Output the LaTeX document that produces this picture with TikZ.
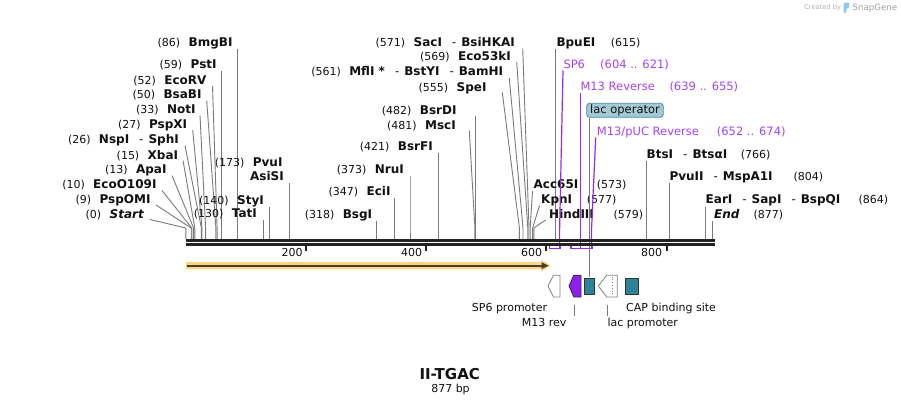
\documentclass[tikz,border=0pt]{standalone}
\usepackage{fontspec}
\setmainfont{DejaVu Sans}
\usetikzlibrary{calc}
\definecolor{txt}{RGB}{17,17,17}
\definecolor{cutc}{RGB}{122,122,122}
\definecolor{bbc}{RGB}{34,34,34}
\definecolor{ptxt}{RGB}{165,68,240}
\definecolor{pln}{RGB}{150,40,235}
\definecolor{pfill}{RGB}{145,30,240}
\definecolor{orng}{RGB}{255,212,128}
\definecolor{dgray}{RGB}{70,62,55}
\definecolor{teal1}{RGB}{46,131,153}
\definecolor{lacfill}{RGB}{163,201,212}
\definecolor{lacdraw}{RGB}{70,140,160}
\definecolor{fgray}{RGB}{130,130,130}
\definecolor{dk}{RGB}{50,50,50}
\definecolor{wm}{RGB}{178,178,178}
\definecolor{wmblue}{RGB}{140,200,240}
\tikzset{
 enz/.style={font=\fontsize{12}{14}\selectfont\bfseries, inner sep=0pt, text=txt},
 num/.style={font=\fontsize{11}{13}\selectfont, inner sep=0pt, text=txt},
 flab/.style={font=\fontsize{11.5}{13}\selectfont, inner sep=0pt, text=ptxt},
 blab/.style={font=\fontsize{11}{13}\selectfont, inner sep=0pt, text=txt},
 cl/.style={draw=cutc, line width=0.9pt},
 pl/.style={draw=pln, line width=1.2pt},
 bb/.style={draw=bbc, line width=2.4pt},
 tickm/.style={draw=bbc, line width=2pt},
 featw/.style={draw=fgray, fill=white, line width=0.8pt, line join=round},
 featc/.style={draw=dk, line width=0.8pt, line join=round},
}
\newcommand{\sepx}{\hspace{10pt}\textmd{-}\hspace{5pt}}
% id, endx, base, name, number, site, startx, starty
\newcommand{\EnzL}[8]{%
 \node[enz, anchor=base east] (e#1) at (#2,#3) {#4};
 \node[num, anchor=base east] (n#1) at ([xshift=-8pt]e#1.base west) {#5};
 \coordinate (t#1) at (#7,#8);
 \coordinate (k#1) at (#6,228);
 \coordinate (s#1) at (#6,239);
 \draw[cl] (t#1) -- (k#1) -- (s#1);}
% id, startx, base, name, number, numx, site, sx, sy
\newcommand{\EnzR}[9]{%
 \node[enz, anchor=base west] (e#1) at (#2,#3) {#4};
 \node[num, anchor=base west] (n#1) at (#6,#3) {#5};
 \coordinate (t#1) at (#8,#9);
 \coordinate (k#1) at (#7,228);
 \coordinate (s#1) at (#7,239);
 \draw[cl] (t#1) -- (k#1) -- (s#1);}
\begin{document}
\begin{tikzpicture}[x=1pt,y=-1pt]
\useasboundingbox (0,0) rectangle (901,405);
\fill[white] (0,0) rectangle (901,405);

% watermark
\node[font=\fontsize{6.7}{8}\selectfont, text=wm, inner sep=0pt, anchor=base west] (wm1) at (804,9.6) {Created by};
\fill[wmblue, rounded corners=1pt] (843.5,2.5) -- (849.2,2.5) -- (849.2,8.2) -- (846.4,8.2) -- (846.4,13) -- (843.5,13) -- cycle;
\node[font=\fontsize{8.6}{10}\selectfont, text=wm!90!black, inner sep=0pt, anchor=base west] (wm2) at (852.5,10.4) {SnapGene};

% left group
\EnzL{86}{232.7}{46.7}{BmgBI}{(86)}{237.5}{237.5}{48.5}
\EnzL{59}{216.8}{68.7}{PstI}{(59)}{221.3}{221.3}{71}
\EnzL{52}{206.7}{84.3}{EcoRV}{(52)}{217.1}{212.5}{86}
\EnzL{50}{201.7}{98.7}{BsaBI}{(50)}{215.9}{206.7}{100.5}
\EnzL{33}{195.7}{113.7}{NotI}{(33)}{205.6}{200}{115.5}
\EnzL{27}{187.3}{128.3}{PspXI}{(27)}{202}{192.7}{130}
\EnzL{26}{179}{143.3}{NspI\sepx SphI}{(26)}{201.4}{185}{145.5}
\EnzL{15}{178.3}{159}{XbaI}{(15)}{194.8}{183}{160.5}
\EnzL{13}{166.7}{173.7}{ApaI}{(13)}{193.6}{172}{175.5}
\EnzL{10}{156.7}{188.7}{EcoO109I}{(10)}{191.8}{162}{190.5}
\EnzL{9}{150.7}{203.3}{PspOMI}{(9)}{191.2}{156}{205}
\EnzL{0}{144}{218}{\itshape Start}{(0)}{185.8}{150}{219.5}

\EnzL{140}{264}{204}{StyI}{(140)}{269.9}{269.9}{206.5}
\EnzL{130}{257}{217.7}{TatI}{(130)}{263.9}{263.9}{220}
\node[enz, anchor=base east] (e173) at (282.7,166) {PvuI};
\node[num, anchor=base east] (n173) at ([xshift=-8pt]e173.base west) {(173)};
\node[enz, anchor=base east] (e173b) at (284,180.3) {AsiSI};
\coordinate (t173) at (289.8,183);
\coordinate (s173) at (289.8,239);
\draw[cl] (t173) -- (s173);

% middle group
\EnzL{318}{372.3}{218.3}{BsgI}{(318)}{376.9}{376.9}{220.5}
\EnzL{347}{390.7}{195.7}{EciI}{(347)}{394.3}{394.3}{198}
\EnzL{373}{404}{173.3}{NruI}{(373)}{410}{410}{176}
\EnzL{421}{433}{150.7}{BsrFI}{(421)}{438.8}{438.8}{153}
\EnzL{481}{456}{129}{MscI}{(481)}{474.9}{469.3}{130.5}
\EnzL{482}{456.7}{114}{BsrDI}{(482)}{475.5}{475.5}{116}
\EnzL{555}{486.7}{91}{SpeI}{(555)}{519.4}{502.3}{92.5}
\EnzL{561}{503.3}{75.7}{MflI *\sepx BstYI\sepx BamHI}{(561)}{523}{509.3}{78}
\EnzL{569}{511}{60}{Eco53kI}{(569)}{527.8}{516.7}{62}
\EnzL{571}{515}{46}{SacI\sepx BsiHKAI}{(571)}{529}{522.7}{48.5}

% right group
\EnzR{615}{556.3}{46}{BpuEI}{(615)}{610.7}{555.4}{555.4}{48.5}
\EnzR{573}{533.5}{188.3}{Acc65I}{(573)}{596.7}{530.2}{532.5}{191}
\EnzR{577}{541}{203.3}{KpnI}{(577)}{586.7}{532.6}{539.5}{205.5}
\EnzR{579}{549}{218.3}{HindIII}{(579)}{613.3}{533.8}{545.7}{220}
\EnzR{766}{646.5}{158.3}{BtsI\sepx BtsαI}{(766)}{740.7}{646.2}{646.2}{160.7}
\EnzR{804}{669.3}{180.7}{PvuII\sepx MspA1I}{(804)}{793.3}{669}{669}{182.7}
\EnzR{864}{705.5}{203.3}{EarI\sepx SapI\sepx BspQI}{(864)}{858.3}{705.1}{705.1}{206.7}
\EnzR{877}{714}{218.3}{\itshape End}{(877)}{753.3}{712.9}{712.9}{220.5}

% feature labels (purple)
\node[flab, anchor=base west] (fsp6) at (563.3,68.3) {SP6};
\node[flab, anchor=base west] (fsp6n) at (600,68.3) {(604 .. 621)};
\node[flab, anchor=base west] (fm13) at (580.3,90.5) {M13 Reverse};
\node[flab, anchor=base west] (fm13n) at (669.3,90.5) {(639 .. 655)};
\node[flab, anchor=base west] (fpuc) at (596.7,135.3) {M13/pUC Reverse};
\node[flab, anchor=base west] (fpucn) at (716.7,135.3) {(652 .. 674)};
\coordinate (psp6a) at (563,70.5);
\coordinate (psp6b) at (559.6,230);
\coordinate (psp6c) at (559.6,248.5);
\coordinate (pm13a) at (580.7,93);
\coordinate (pm13c) at (580.7,248.5);
\coordinate (ppuca) at (595.7,137.5);
\coordinate (ppucb) at (591.5,230);
\coordinate (ppucc) at (591.5,248.5);
\draw[pl] (psp6a) -- (psp6b) -- (psp6c);
\draw[pl] (pm13a) -- (pm13c);
\draw[pl] (ppuca) -- (ppucb) -- (ppucc);
\draw[pl] (549.6,245.6) -- (549.6,248.5) -- (560.2,248.5) -- (560.2,245.6);
\draw[pl] (571,245.6) -- (571,248.5) -- (592,248.5) -- (592,245.6);

% lac operator label
\node[draw=lacdraw, fill=lacfill, rounded corners=3pt, line width=0.8pt, minimum width=76.6pt, minimum height=14pt, inner sep=0pt, font=\fontsize{11.5}{13}\selectfont, text=txt] (lacop) at (625,110.3) {lac operator};
\coordinate (lacfeat) at (589.3,277);
\draw[cl] (lacop.south -| lacfeat) -- (lacfeat);

% backbone
\draw[bb] (186,240.5) -- (715,240.5);
\draw[bb] (186,244.5) -- (715,244.5);

% ticks
\draw[tickm] (306,245) -- (306,251);
\draw[tickm] (426.2,245) -- (426.2,251);
\draw[tickm] (546.4,245) -- (546.4,251);
\draw[tickm] (666.6,245) -- (666.6,251);
\node[num, anchor=base east] (t200) at (302.7,256) {200};
\node[num, anchor=base east] (t400) at (422.2,256) {400};
\node[num, anchor=base east] (t600) at (542.2,256) {600};
\node[num, anchor=base east] (t800) at (662.4,256) {800};

% orange ORF arrow
\fill[orng] (186,262.2) -- (541,262.2) -- (541,259.8) -- (551,265.7) -- (541,271.6) -- (541,269.2) -- (186,269.2) -- cycle;
\draw[draw=dgray, line width=2pt] (187,265.7) -- (543.5,265.7);
\fill[dgray] (541.5,262.2) -- (548.6,265.7) -- (541.5,269.2) -- cycle;

% features
\draw[featw] (548,286) -- (553.5,275.2) -- (560,275.2) -- (560,297) -- (553.5,297) -- cycle;
\draw[featc, fill=pfill] (569,286) -- (573.8,275.2) -- (581,275.2) -- (581,297) -- (573.8,297) -- cycle;
\draw[featc, fill=teal1] (584.3,278.3) rectangle (594.3,294.3);
\draw[featw] (598.3,286) -- (606.7,275.2) -- (617.3,275.2) -- (617.3,297) -- (606.7,297) -- cycle;
\draw[draw=fgray, line width=0.8pt, dotted] (612.6,276.6) -- (612.6,295.6);
\draw[featc, fill=teal1] (625.7,278.3) rectangle (638.7,294.3);

\node[blab, anchor=base west] (lsp6p) at (471.7,311.5) {SP6 promoter};
\node[blab, anchor=base west] (lcap) at (626,311.5) {CAP binding site};
\node[blab, anchor=base west] (lm13) at (521.7,326) {M13 rev};
\node[blab, anchor=base west] (llacp) at (607.4,326) {lac promoter};
\coordinate (cm13a) at (574.7,305);
\coordinate (cm13b) at (574.7,316);
\coordinate (clpa) at (607.7,305);
\coordinate (clpb) at (607.7,316);
\draw[cl] (cm13a) -- (cm13b);
\draw[cl] (clpa) -- (clpb);

% title
\node[font=\fontsize{15}{17}\selectfont\bfseries, text=txt, inner sep=0pt, anchor=base] (title) at (449.7,379) {II-TGAC};
\node[blab, anchor=base] (bp) at (450.5,392.3) {877 bp};
\end{tikzpicture}
\end{document}
